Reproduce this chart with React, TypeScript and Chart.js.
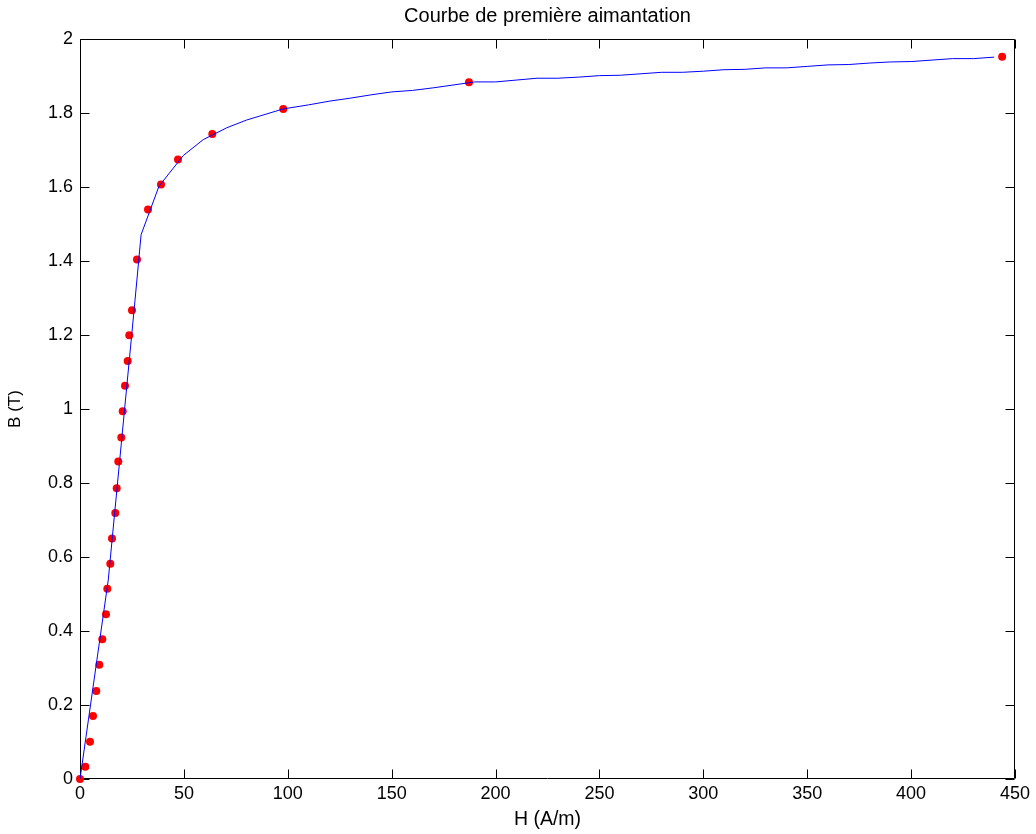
import React, { useEffect, useRef } from "react";
import { Chart, registerables } from "chart.js";

Chart.register(...registerables);

// Measured points (red dots)
const dotH = [0, 2.55, 4.81, 6.26, 7.84, 9.29, 10.73, 12.51, 13.14, 14.58, 15.4, 16.99, 17.66, 18.43, 19.87, 20.55, 21.66, 22.95, 23.72, 25.02, 27.43, 32.72, 38.98, 47.16, 63.67, 97.83, 187.2, 443.8];
const dotB = [0, 0.033, 0.101, 0.17, 0.238, 0.309, 0.378, 0.445, 0.514, 0.582, 0.65, 0.719, 0.786, 0.858, 0.923, 0.994, 1.063, 1.13, 1.199, 1.267, 1.404, 1.539, 1.607, 1.674, 1.743, 1.811, 1.883, 1.952];

// Interpolated curve (blue line)
const lineH = [0, 13.6, 26.5, 29.4, 38.0, 49.7, 59.3, 70.6, 80.2, 97.8, 110, 120, 130, 140, 150, 160, 170, 180, 190, 200, 210, 220, 230, 240, 250, 260, 270, 280, 290, 300, 310, 320, 330, 340, 350, 360, 370, 380, 390, 400, 410, 420, 430, 440];
const lineB = [0, 0.538, 1.295, 1.471, 1.602, 1.685, 1.728, 1.76, 1.781, 1.811, 1.822, 1.832, 1.84, 1.849, 1.857, 1.861, 1.868, 1.876, 1.884, 1.884, 1.889, 1.894, 1.894, 1.897, 1.901, 1.902, 1.906, 1.91, 1.91, 1.913, 1.917, 1.918, 1.922, 1.922, 1.926, 1.93, 1.931, 1.935, 1.938, 1.939, 1.943, 1.947, 1.947, 1.951];

const xTickLabels = ["0", "50", "100", "150", "200", "250", "300", "350", "400", "450"];
const yTickLabels = ["0", "0.2", "0.4", "0.6", "0.8", "1", "1.2", "1.4", "1.6", "1.8", "2"];

const titleText = "Courbe de première aimantation";
const xTitle = "H (A/m)";
const yTitle = "B (T)";

const FONT = "'Liberation Sans', Arial, Helvetica, sans-serif";
const TICK_LEN = 9;

const axesBox = {
  id: "axesBox",
  beforeDatasetsDraw(chart: any) {
    const { ctx, chartArea, scales } = chart;
    const L = Math.round(chartArea.left) + 0.5;
    const R = Math.round(chartArea.right) - 0.5;
    const T = Math.round(chartArea.top) + 0.5;
    const B = Math.round(chartArea.bottom) - 0.5;
    ctx.save();
    ctx.strokeStyle = "#000";
    ctx.lineWidth = 1;
    ctx.beginPath();
    ctx.rect(L, T, R - L, B - T);
    scales.x.ticks.forEach((t: any) => {
      const px = Math.round(scales.x.getPixelForValue(t.value)) + 0.5;
      ctx.moveTo(px, B);
      ctx.lineTo(px, B - TICK_LEN);
      ctx.moveTo(px, T);
      ctx.lineTo(px, T + TICK_LEN);
    });
    scales.y.ticks.forEach((t: any) => {
      const py = Math.round(scales.y.getPixelForValue(t.value)) + 0.5;
      ctx.moveTo(L, py);
      ctx.lineTo(L + TICK_LEN, py);
      ctx.moveTo(R, py);
      ctx.lineTo(R - TICK_LEN, py);
    });
    ctx.stroke();
    ctx.restore();
  },
};

export default function App() {
  const ref = useRef<HTMLCanvasElement | null>(null);

  useEffect(() => {
    document.body.style.margin = "0";
    document.body.style.overflow = "hidden";
    const canvas = ref.current;
    if (!canvas) return;
    const chart = new Chart(canvas, {
      type: "scatter",
      data: {
        datasets: [
          {
            label: "courbe",
            data: lineH.map((h, i) => ({ x: h, y: lineB[i] })),
            showLine: true,
            borderColor: "#0000ff",
            backgroundColor: "#0000ff",
            borderWidth: 1,
            pointRadius: 0,
            tension: 0,
          },
          {
            label: "mesures",
            data: dotH.map((h, i) => ({ x: h, y: dotB[i] })),
            showLine: false,
            backgroundColor: "#ff0000",
            borderColor: "#ff0000",
            borderWidth: 0,
            pointRadius: 4,
            clip: false,
          } as any,
        ],
      },
      options: {
        responsive: false,
        animation: false,
        layout: { padding: { left: 0, right: 21, top: 0, bottom: 0 } },
        plugins: {
          legend: { display: false },
          tooltip: { enabled: false },
          title: {
            display: true,
            fullSize: false,
            text: titleText,
            color: "#000",
            font: { family: FONT, size: 20, weight: "normal" },
            padding: { top: 4, bottom: 11 },
          },
        },
        scales: {
          x: {
            type: "linear",
            min: 0,
            max: 450,
            ticks: {
              stepSize: 50,
              color: "#000",
              font: { family: FONT, size: 18 },
              padding: 4,
              maxRotation: 0,
              callback: (_v: any, i: number) => xTickLabels[i],
            },
            grid: { display: false, drawTicks: false },
            border: { display: false },
            title: {
              display: true,
              text: xTitle,
              color: "#000",
              font: { family: FONT, size: 19.5 },
              padding: { top: 0, bottom: 3 },
            },
            afterFit: (s: any) => {
              s.height = 55;
            },
          },
          y: {
            type: "linear",
            min: 0,
            max: 2,
            ticks: {
              stepSize: 0.2,
              color: "#000",
              font: { family: FONT, size: 18 },
              padding: 7,
              callback: (_v: any, i: number) => yTickLabels[i],
            },
            grid: { display: false, drawTicks: false },
            border: { display: false },
            title: {
              display: true,
              text: yTitle,
              color: "#000",
              font: { family: FONT, size: 17 },
              padding: { top: 5, bottom: 0 },
            },
            afterFit: (s: any) => {
              s.width = 80;
            },
          },
        },
      },
      plugins: [axesBox],
    });
    return () => chart.destroy();
  }, []);

  return (
    <div style={{ width: 1036, height: 834, background: "#fff" }}>
      <canvas ref={ref} width={1036} height={834} style={{ display: "block" }} />
    </div>
  );
}
